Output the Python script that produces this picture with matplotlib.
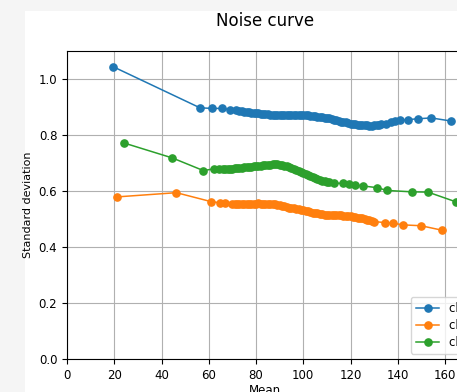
#!/usr/bin/env python3
"""Noise curve: standard deviation vs mean for three channels."""

import matplotlib

matplotlib.use("Agg")
import matplotlib.pyplot as plt
from matplotlib.patches import Rectangle

# channel 0 (blue)
ch0_mean = [19.5, 56.3, 61.5, 65.5, 69.0, 71.4,
            73, 74, 75, 76, 77, 78, 79, 80, 81, 82, 83, 84, 85, 86, 87, 88, 89, 90,
            91, 92, 93, 94, 95, 96, 97, 98, 99, 100, 101, 102, 103, 104, 105, 106,
            107, 108, 109, 110, 111, 112, 113, 114, 115, 116, 117, 118, 119, 120,
            121, 122, 123, 124, 125, 126, 127, 128, 129, 130, 131, 132, 133,
            135.0, 137.0, 139.0, 141.0, 144.3, 148.6, 154.1, 162.5]
ch0_std = [1.044, 0.897, 0.895, 0.895, 0.891, 0.889,
           0.885, 0.884, 0.883, 0.882, 0.881, 0.880, 0.879, 0.878, 0.877, 0.876,
           0.875, 0.875, 0.874, 0.873, 0.873, 0.872, 0.872, 0.872, 0.871, 0.872,
           0.872, 0.872, 0.871, 0.872, 0.872, 0.871, 0.871, 0.871, 0.870, 0.870,
           0.869, 0.868, 0.867, 0.866, 0.865, 0.863, 0.862, 0.861, 0.859, 0.857,
           0.854, 0.852, 0.849, 0.848, 0.846, 0.845, 0.843, 0.841, 0.840, 0.839,
           0.837, 0.836, 0.835, 0.835, 0.834, 0.833, 0.833, 0.834, 0.835, 0.837,
           0.838,
           0.841, 0.845, 0.849, 0.852, 0.855, 0.858, 0.861, 0.850]

# channel 1 (orange)
ch1_mean = [21.3, 46.3, 61.0, 64.8, 67.0, 69.7,
            71, 72, 73, 74, 75, 76, 77, 78, 79, 80, 81, 82, 83, 84, 85, 86, 87, 88,
            89, 90, 91, 92, 93, 94, 95, 96, 97, 98, 99, 100, 101, 102, 103, 104,
            105, 106, 107, 108, 109, 110, 111, 112, 113, 114, 115, 116, 117, 118,
            119, 120, 121, 122, 123, 124, 125, 126, 127, 128, 129, 130,
            134.6, 138.0, 142.2, 149.8, 158.7]
ch1_std = [0.579, 0.594, 0.562, 0.558, 0.556, 0.555,
           0.554, 0.554, 0.554, 0.554, 0.555, 0.555, 0.555, 0.555, 0.555, 0.555,
           0.556, 0.555, 0.555, 0.555, 0.554, 0.554, 0.553, 0.552, 0.550, 0.549,
           0.547, 0.545, 0.543, 0.541, 0.539, 0.538, 0.537, 0.535, 0.533, 0.531,
           0.529, 0.527, 0.525, 0.523, 0.521, 0.520, 0.518, 0.517, 0.516, 0.516,
           0.516, 0.515, 0.515, 0.514, 0.513, 0.513, 0.512, 0.511, 0.510, 0.509,
           0.508, 0.506, 0.505, 0.504, 0.502, 0.500, 0.497, 0.495, 0.493, 0.491,
           0.487, 0.485, 0.479, 0.476, 0.460]

# channel 2 (green)
ch2_mean = [24.3, 44.6, 57.7, 62.2, 64.5,
            66, 67, 68, 69, 70, 71, 72, 73, 74, 75, 76, 77, 78, 79, 80, 81, 82, 83,
            84, 85, 86, 87, 88, 89, 90, 91, 92, 93, 94, 95, 96, 97, 98, 99, 100,
            101, 102, 103, 104, 105, 106, 107, 108, 109, 110, 111,
            113.0, 117.0, 119.5, 122.0, 125.3, 131.2, 135.4, 146.0, 152.8, 164.7]
ch2_std = [0.771, 0.718, 0.673, 0.679, 0.679,
           0.679, 0.679, 0.679, 0.680, 0.680, 0.681, 0.682, 0.682, 0.683, 0.684,
           0.684, 0.685, 0.686, 0.688, 0.689, 0.690, 0.691, 0.692, 0.693, 0.693,
           0.694, 0.695, 0.695, 0.695, 0.694, 0.693, 0.691, 0.689, 0.686, 0.683,
           0.680, 0.676, 0.673, 0.669, 0.666, 0.662, 0.658, 0.655, 0.651, 0.647,
           0.643, 0.640, 0.637, 0.635, 0.633, 0.631,
           0.628, 0.627, 0.626, 0.621, 0.618, 0.612, 0.602, 0.597, 0.596, 0.561]

labels = ["channel 0", "channel 1", "channel 2"]

W, H = 457, 392
fig = plt.figure(figsize=(W / 100, H / 100), dpi=100, facecolor="#f5f5f5")
# white figure area (the screenshot shows the page background around it)
fig.patches.append(Rectangle((25 / W, 0), 1, (H - 11) / H, transform=fig.transFigure,
                             facecolor="white", edgecolor="none", zorder=-1))

# axes run past the right edge of the picture, as in the reference
ax = fig.add_axes([67 / W, (H - 359) / H, (463 - 67) / W, (359 - 51) / H])

for xs, ys, lab in [(ch0_mean, ch0_std, labels[0]),
                    (ch1_mean, ch1_std, labels[1]),
                    (ch2_mean, ch2_std, labels[2])]:
    ax.plot(xs, ys, "o-", markersize=5.2, linewidth=1.1, label=lab)

ax.set_xlim(0, 167.6)
ax.set_ylim(0, 1.1)
ax.set_xticks(range(0, 161, 20))
ax.set_yticks([0.0, 0.2, 0.4, 0.6, 0.8, 1.0])
ax.tick_params(labelsize=8.5)
ax.grid(True)

ax.set_xlabel("Mean", fontsize=8.5, labelpad=2)
ax.set_ylabel("Standard deviation", fontsize=8)
ax.set_title("Noise curve", fontsize=12, pad=18)

ax.legend(loc="upper left", bbox_to_anchor=(411 / W, 1 - 297 / H),
          bbox_transform=fig.transFigure, fontsize=8.5, labelspacing=0.35,
          borderaxespad=0)

fig.savefig("out.png", dpi=100, facecolor=fig.get_facecolor())
